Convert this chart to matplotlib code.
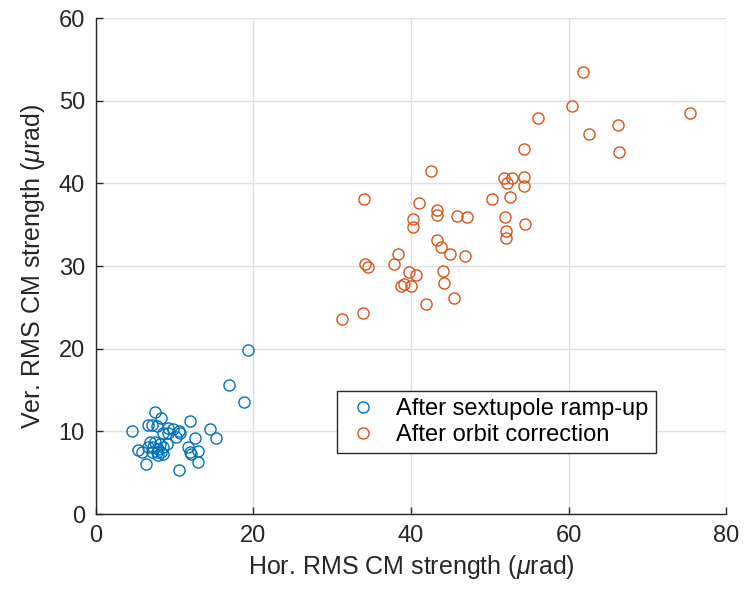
import matplotlib
matplotlib.use("Agg")
import matplotlib.pyplot as plt

plt.rcParams['font.family'] = ['Liberation Sans', 'DejaVu Sans']
plt.rcParams['mathtext.fontset'] = 'custom'
plt.rcParams['mathtext.it'] = 'Liberation Sans:italic'
plt.rcParams['mathtext.rm'] = 'Liberation Sans'

# After sextupole ramp-up (hor, ver) in urad
sext_x = [19.3, 16.9, 18.8, 7.5, 8.3, 11.9, 6.6, 7.1, 7.7, 14.5, 4.6, 9.2, 9.8, 10.6,
          10.7, 8.5, 9.2, 15.2, 12.6, 10.1, 6.9, 7.5, 8.1, 9.0, 6.6, 7.3, 7.9, 8.5,
          7.1, 7.7, 8.3, 5.3, 5.8, 7.9, 8.5, 11.7, 11.9, 13.0, 12.1, 6.4, 12.9, 10.6]
sext_y = [19.9, 15.6, 13.5, 12.3, 11.6, 11.3, 10.8, 10.8, 10.7, 10.3, 10.0, 10.4, 10.3, 10.0,
          9.8, 9.8, 9.8, 9.2, 9.2, 9.3, 8.7, 8.7, 8.5, 8.5, 8.1, 8.1, 7.9, 8.1,
          7.5, 7.5, 7.5, 7.7, 7.5, 7.1, 7.3, 8.1, 7.5, 7.6, 7.3, 6.1, 6.3, 5.3]

# After orbit correction
orb_x = [31.3, 33.9, 34.0, 34.1, 34.5, 37.9, 38.3, 38.7, 39.1, 40.0, 39.7, 40.6, 40.3, 40.3,
         41.0, 41.9, 42.5, 43.3, 43.3, 43.3, 43.8, 44.1, 44.2, 45.0, 45.4, 45.9, 46.9, 47.1,
         50.3, 51.8, 52.2, 52.8, 54.3, 54.3, 52.6, 51.9, 54.5, 52.1, 52.1, 54.4, 56.1, 60.5,
         61.9, 62.6, 66.3, 66.4, 75.4]
orb_y = [23.6, 24.3, 38.1, 30.2, 29.9, 30.2, 31.4, 27.6, 27.8, 27.6, 29.3, 28.9, 35.7, 34.7,
         37.6, 25.4, 41.5, 36.8, 36.2, 33.1, 32.3, 29.4, 27.9, 31.5, 26.1, 36.1, 31.2, 35.9,
         38.1, 40.7, 40.0, 40.7, 40.8, 39.7, 38.4, 35.9, 35.1, 34.2, 33.4, 44.1, 47.9, 49.4,
         53.5, 46.0, 47.0, 43.8, 48.5]

fig = plt.figure(figsize=(7.47, 5.95), dpi=100)
ax = fig.add_axes([0.1285, 0.1361, 0.8434, 0.8336])

ax.plot(sext_x, sext_y, 'o', mfc='none', mec='#0072BD', ms=8, mew=1.0,
        label="After sextupole ramp-up")
ax.plot(orb_x, orb_y, 'o', mfc='none', mec='#D95319', ms=8, mew=1.0,
        label="After orbit correction")

ax.set_xlim(0, 80)
ax.set_ylim(0, 60)
ax.set_xticks([0, 20, 40, 60, 80])
ax.set_yticks([0, 10, 20, 30, 40, 50, 60])
ax.grid(True, color='#dfdfdf', linewidth=1.0)
ax.set_axisbelow(True)

for s in ['top', 'right']:
    ax.spines[s].set_visible(False)
for s in ['left', 'bottom']:
    ax.spines[s].set_color('#262626')
    ax.spines[s].set_linewidth(1.0)
ax.tick_params(direction='in', length=5, width=1.0, colors='#262626',
               labelsize=17, pad=8)

ax.set_xlabel("Hor. RMS CM strength ($\\mu$rad)", fontsize=18, color='#262626', labelpad=4)
ax.set_ylabel("Ver. RMS CM strength ($\\mu$rad)", fontsize=18, color='#262626', labelpad=8)

leg = ax.legend(loc='lower left', bbox_to_anchor=(0.383, 0.123), fontsize=17,
                frameon=True, fancybox=False, edgecolor='#262626', framealpha=1,
                borderpad=0.3, handletextpad=0.6, handlelength=1.6, labelspacing=0.15,
                borderaxespad=0)
leg.get_frame().set_linewidth(1.0)

fig.savefig("out.png", dpi=100)
